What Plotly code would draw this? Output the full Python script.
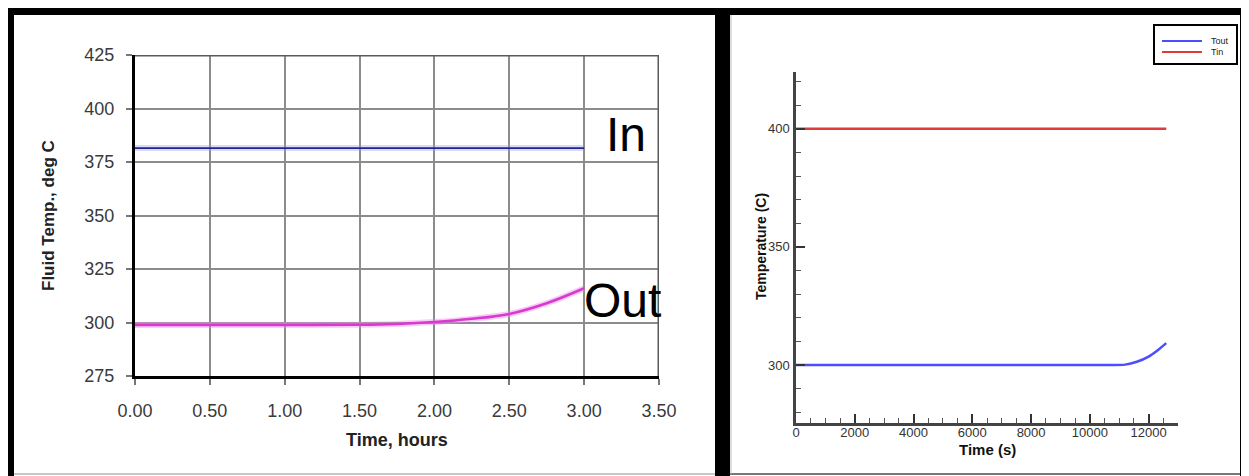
import plotly.graph_objects as go

# page body has an 8px margin: the figure starts at (8, 8) in the window
OFF = 8
W, H = 1249 - OFF, 476 - OFF

# ---- Left chart data (hours, deg C) ----
hours_out = [0, 0.5, 1.0, 1.5, 1.75, 2.0, 2.25, 2.5, 2.75, 3.0]
temp_out = [298.8, 298.8, 298.8, 298.9, 299.3, 300.2, 301.7, 304.0, 309.0, 316.0]
hours_in = [0, 3.0]
temp_in = [381.5, 381.5]
left_xticks = [0, 0.5, 1.0, 1.5, 2.0, 2.5, 3.0, 3.5]
left_yticks = [275, 300, 325, 350, 375, 400, 425]

# ---- Right chart data (seconds, C) ----
time_s = [0, 2000, 4000, 6000, 8000, 10000, 10800, 11200, 11600, 12000, 12300, 12600]
tout = [300, 300, 300, 300, 300, 300, 300, 300.2, 301.4, 303.6, 306.2, 309.3]
time_in = [0, 12600]
tin = [400, 400]
right_xticks = [0, 2000, 4000, 6000, 8000, 10000, 12000]
right_yticks = [300, 350, 400]
legend_names = ["Tout", "Tin"]
legend_colors = ["#4d4dff", "#e03a3a"]


def px(x):
    return (x - OFF) / W


def py(y):
    return 1 - (y - OFF) / H


fig = go.Figure()

# Left chart traces
fig.add_trace(go.Scatter(x=hours_in, y=temp_in, mode="lines", xaxis="x", yaxis="y",
                         line=dict(color="rgba(150,150,240,0.35)", width=6), showlegend=False, hoverinfo="skip"))
fig.add_trace(go.Scatter(x=hours_in, y=temp_in, mode="lines", xaxis="x", yaxis="y",
                         line=dict(color="#23238f", width=1.8), showlegend=False, name="In"))
fig.add_trace(go.Scatter(x=hours_out, y=temp_out, mode="lines", xaxis="x", yaxis="y",
                         line=dict(color="rgba(240,140,235,0.45)", width=6, shape="spline"), showlegend=False, hoverinfo="skip"))
fig.add_trace(go.Scatter(x=hours_out, y=temp_out, mode="lines", xaxis="x", yaxis="y",
                         line=dict(color="#d83ad0", width=2.5, shape="spline"), showlegend=False, name="Out"))

# Right chart traces
fig.add_trace(go.Scatter(x=time_s, y=tout, mode="lines", xaxis="x2", yaxis="y2",
                         line=dict(color=legend_colors[0], width=2.5, shape="spline", smoothing=0.6),
                         name=legend_names[0], showlegend=False))
fig.add_trace(go.Scatter(x=time_in, y=tin, mode="lines", xaxis="x2", yaxis="y2",
                         line=dict(color=legend_colors[1], width=2.5), name=legend_names[1], showlegend=False))

left_tickfont = dict(family="Liberation Sans, Arial", size=18, color="#3a3a3a")
right_tickfont = dict(family="Liberation Sans, Arial", size=13, color="#333333")

fig.update_layout(
    width=W, height=H,
    margin=dict(l=0, r=0, t=0, b=0, pad=0, autoexpand=False),
    paper_bgcolor="white", plot_bgcolor="white",
    xaxis=dict(domain=[px(135), px(659)], range=[0, 3.5], anchor="y",
               tickvals=left_xticks, tickformat=".2f", tickfont=left_tickfont,
               showgrid=True, gridcolor="#8c8c8c", gridwidth=1.5,
               showline=True, linecolor="black", linewidth=3,
               ticks="outside", ticklen=6, tickcolor="#777", tickwidth=1.5,
               ticklabelstandoff=10, zeroline=False, fixedrange=True, automargin=False),
    yaxis=dict(domain=[py(376), py(55)], range=[275, 425], anchor="x",
               tickvals=left_yticks, tickfont=left_tickfont,
               showgrid=True, gridcolor="#8c8c8c", gridwidth=1.5,
               showline=True, linecolor="black", linewidth=3,
               ticks="outside", ticklen=6, tickcolor="#777", tickwidth=1.5,
               ticklabelstandoff=8, zeroline=False, fixedrange=True, automargin=False),
    xaxis2=dict(domain=[px(796), px(1178)], range=[0, 13000], anchor="y2",
                tickvals=right_xticks, tickformat="d", tickfont=right_tickfont,
                showgrid=False, showline=True, linecolor="#444", linewidth=2.5,
                ticks="inside", ticklen=9, tickwidth=2, tickcolor="#333",
                minor=dict(dtick=500, ticks="inside", ticklen=5, tickwidth=1, tickcolor="#555", showgrid=False),
                ticklabelstandoff=-4, zeroline=False, fixedrange=True, automargin=False),
    yaxis2=dict(domain=[py(423), py(72)], range=[275.5, 424], anchor="x2",
                tickvals=right_yticks, tickfont=right_tickfont,
                showgrid=False, showline=True, linecolor="#444", linewidth=2.5,
                ticks="inside", ticklen=9, tickwidth=2, tickcolor="#333",
                minor=dict(dtick=10, ticks="inside", ticklen=5, tickwidth=1, tickcolor="#555", showgrid=False),
                ticklabelstandoff=1, zeroline=False, fixedrange=True, automargin=False),
    showlegend=False,
)

shapes = []
# left chart top / right border lines
shapes.append(dict(type="line", xref="x", yref="y", x0=0, x1=3.5, y0=425, y1=425,
                   line=dict(color="#5a5a5a", width=3)))
shapes.append(dict(type="line", xref="x", yref="y", x0=3.5, x1=3.5, y0=275, y1=425,
                   line=dict(color="#5a5a5a", width=3)))
# black panel frames
for x0, y0, x1, y1 in [(0, 8, 1249, 15), (0, 8, 14, 476), (715, 8, 730, 476), (1240, 8, 1249, 476)]:
    shapes.append(dict(type="rect", xref="paper", yref="paper", x0=px(x0), x1=px(x1), y0=py(y1), y1=py(y0),
                       fillcolor="black", line=dict(width=0), layer="above"))
# thin gray bottom / side edges
shapes.append(dict(type="line", xref="paper", yref="paper", x0=px(14), x1=px(715), y0=py(474), y1=py(474),
                   line=dict(color="#c8c8c8", width=2)))
shapes.append(dict(type="line", xref="paper", yref="paper", x0=px(730), x1=px(1240), y0=py(474), y1=py(474),
                   line=dict(color="#777", width=2)))
shapes.append(dict(type="line", xref="paper", yref="paper", x0=px(731), x1=px(731), y0=py(474), y1=py(15),
                   line=dict(color="#bbbbbb", width=1)))
# legend box (right chart)
shapes.append(dict(type="rect", xref="paper", yref="paper", x0=px(1154), x1=px(1237), y0=py(64), y1=py(25),
                   fillcolor="white", line=dict(color="black", width=2)))
ann = []
for i, (name, col) in enumerate(zip(legend_names, legend_colors)):
    yy = 41 + 11 * i
    shapes.append(dict(type="line", xref="paper", yref="paper", x0=px(1162), x1=px(1202), y0=py(yy), y1=py(yy),
                       line=dict(color=col, width=2)))
    ann.append(dict(text=name, xref="paper", yref="paper", x=px(1209), y=py(yy), xanchor="left", yanchor="middle",
                    showarrow=False, font=dict(family="Liberation Sans, Arial", size=9, color="#222")))
fig.update_layout(shapes=shapes)

ann += [
    dict(text="In", xref="x", yref="y", x=3.13, y=388, xanchor="left", yanchor="middle", showarrow=False,
         font=dict(family="Liberation Sans, Arial", size=48, color="black")),
    dict(text="Out", xref="x", yref="y", x=2.985, y=310.5, xanchor="left", yanchor="middle", showarrow=False,
         font=dict(family="Liberation Sans, Arial", size=48, color="black")),
    dict(text="<b>Fluid Temp., deg C</b>", xref="paper", yref="paper", x=px(48), y=py(215),
         textangle=-90, showarrow=False, xanchor="center", yanchor="middle",
         font=dict(family="Liberation Sans, Arial", size=17, color="#222")),
    dict(text="<b>Time, hours</b>", xref="paper", yref="paper", x=px(397), y=py(440),
         showarrow=False, xanchor="center", yanchor="middle",
         font=dict(family="Liberation Sans, Arial", size=18, color="#222")),
    dict(text="<b>Temperature (C)</b>", xref="paper", yref="paper", x=px(761), y=py(247),
         textangle=-90, showarrow=False, xanchor="center", yanchor="middle",
         font=dict(family="Liberation Sans, Arial", size=14, color="#111")),
    dict(text="<b>Time (s)</b>", xref="paper", yref="paper", x=px(987), y=py(449),
         showarrow=False, xanchor="center", yanchor="middle",
         font=dict(family="Liberation Sans, Arial", size=15, color="#111")),
]
fig.update_layout(annotations=ann)

fig.write_html("out.html")
